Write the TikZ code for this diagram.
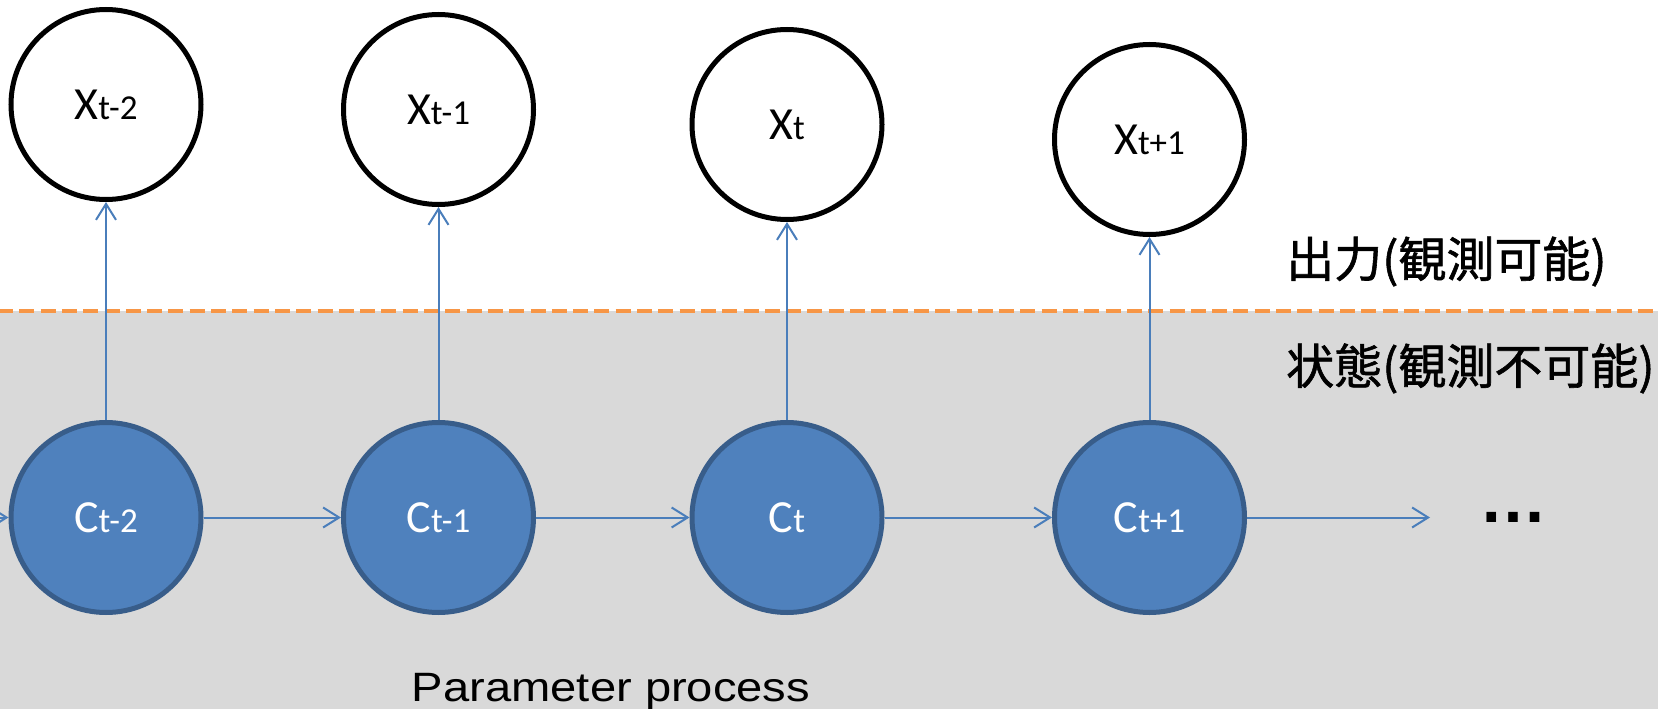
\documentclass[tikz,border=0pt]{standalone}
\usepackage{fontspec}
\setmainfont{Carlito}
\newfontfamily\jpfont[FakeBold=1.2]{Noto Sans CJK JP}
\newfontfamily\arialfont{Liberation Sans}
\usetikzlibrary{arrows.meta}
\definecolor{cfill}{HTML}{4F81BD}
\definecolor{cborder}{HTML}{385D8A}
\definecolor{arrowc}{HTML}{4A7EBB}
\definecolor{bggray}{HTML}{D9D9D9}
\definecolor{dashorange}{HTML}{F79646}
\newcommand{\sbx}[1]{{\fontsize{35}{35}\selectfont #1}}
\begin{document}
\begin{tikzpicture}[x=1pt,y=-1pt,
  obs/.style={circle,draw=black,line width=5pt,fill=white,minimum size=190pt,inner sep=0pt,font=\fontsize{46}{50}\selectfont},
  hid/.style={circle,draw=cborder,line width=5pt,fill=cfill,minimum size=190pt,inner sep=0pt,text=white,font=\fontsize{46}{50}\selectfont},
  link/.style={draw=arrowc,line width=2pt,-{Straight Barb[length=16pt,width=20pt,line width=2pt]}},
  jplabel/.style={anchor=base west,inner sep=0pt,font=\jpfont\fontsize{48}{50}\selectfont}]
\useasboundingbox (0,0) rectangle (1658,709);
\fill[bggray] (0,311) rectangle (1658,709);
\draw[dashorange,line width=4.5pt,dash pattern=on 15pt off 6.3pt,dash phase=2pt] (0,311) -- (1658,311);

\node[obs] (x1) at (106,104.5) {X\sbx{t-2}};
\node[obs] (x2) at (438.5,109.5) {X\sbx{t-1}};
\node[obs] (x3) at (787,124.5) {X\sbx{t}};
\node[obs] (x4) at (1149.5,139.5) {X\sbx{t+1}};

\node[hid] (c1) at (106,517.5) {C\sbx{t-2}};
\node[hid] (c2) at (438.5,517.5) {C\sbx{t-1}};
\node[hid] (c3) at (787,517.5) {C\sbx{t}};
\node[hid] (c4) at (1149.5,517.5) {C\sbx{t+1}};

\coordinate (cin) at (-40,517.5);
\coordinate (cout) at (1430,517.5);

\draw[link] (cin) -- (c1);
\draw[link] (c1) -- (c2);
\draw[link] (c2) -- (c3);
\draw[link] (c3) -- (c4);
\draw[link] (c4) -- (cout);

\draw[link] (c1) -- (x1);
\draw[link] (c2) -- (x2);
\draw[link] (c3) -- (x3);
\draw[link] (c4) -- (x4);

\node[anchor=base west,inner sep=0pt,font=\arialfont\bfseries\fontsize{68}{68}\selectfont] (dots) at (1479,522) {…};

\node[jplabel] (outl) at (1286,277) {出力(観測可能)};
\node[jplabel] (statel) at (1286,384) {状態(観測不可能)};

\node[anchor=base,inner sep=0pt,font=\arialfont\fontsize{41}{45}\selectfont] (pp) at (611,701) {\scalebox{1.15}[1]{Parameter process}};
\end{tikzpicture}
\end{document}
